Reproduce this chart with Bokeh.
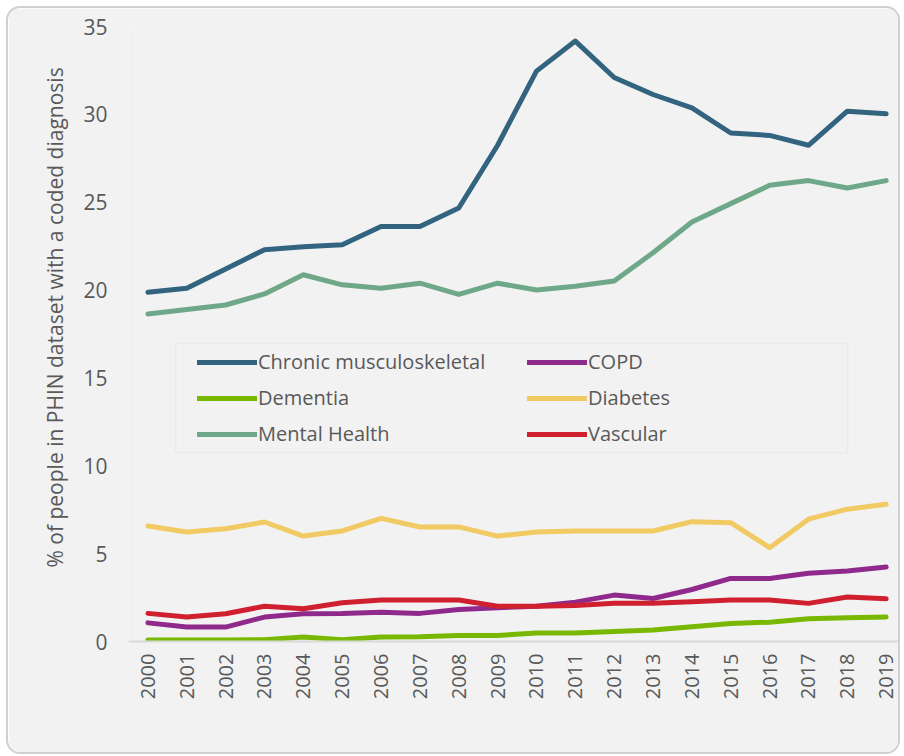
import math
from bokeh.plotting import figure
from bokeh.models import Range1d, FixedTicker, Legend, LegendItem, BoxAnnotation, Title
from bokeh.embed import file_html
from bokeh.resources import INLINE

years = list(range(2000, 2020))
chronic = [19.88, 20.1, 21.2, 22.3, 22.46, 22.58, 23.62, 23.62, 24.67, 28.24,
           32.46, 34.17, 32.1, 31.13, 30.37, 28.94, 28.8, 28.24, 30.18, 30.03]
copd = [1.06, 0.82, 0.82, 1.39, 1.58, 1.6, 1.67, 1.6, 1.82, 1.92,
        2.01, 2.24, 2.64, 2.45, 2.96, 3.59, 3.59, 3.88, 4.01, 4.24]
dementia = [0.08, 0.08, 0.08, 0.1, 0.25, 0.1, 0.25, 0.27, 0.34, 0.34,
            0.49, 0.49, 0.57, 0.65, 0.84, 1.03, 1.1, 1.29, 1.35, 1.39]
diabetes = [6.57, 6.23, 6.42, 6.80, 6.0, 6.29, 7.01, 6.52, 6.52, 6.0,
            6.23, 6.29, 6.29, 6.29, 6.82, 6.76, 5.34, 6.96, 7.53, 7.81]
mental = [18.64, 18.9, 19.15, 19.78, 20.87, 20.3, 20.1, 20.39, 19.76, 20.39,
          20.0, 20.22, 20.52, 22.12, 23.87, 24.92, 25.96, 26.23, 25.81, 26.23]
vascular = [1.6, 1.39, 1.58, 2.01, 1.86, 2.2, 2.36, 2.36, 2.36, 2.01,
            2.01, 2.05, 2.17, 2.17, 2.26, 2.36, 2.36, 2.17, 2.53, 2.43]

series_names = ["Chronic musculoskeletal", "COPD", "Dementia", "Diabetes", "Mental Health", "Vascular"]
series_values = [chronic, copd, dementia, diabetes, mental, vascular]
series_colors = ["#32647f", "#8f2a8c", "#78b800", "#f2ca63", "#6fa888", "#d01f2e"]
y_ticks = [0, 5, 10, 15, 20, 25, 30, 35]
y_title = "% of people in PHIN dataset with a coded diagnosis"

BG = "#f2f2f2"
FONT = "Open Sans"
TXT = "#595959"

p = figure(width=894, height=748, output_backend="svg", toolbar_location=None,
           x_range=Range1d(1999.5, 2019.42), y_range=Range1d(0, 35),
           min_border_left=120, min_border_right=0, min_border_top=18, min_border_bottom=115)
p.background_fill_color = BG
p.border_fill_color = BG
p.outline_line_color = None
p.xgrid.visible = False
p.ygrid.visible = False
p.styles = {"border": "2px solid #d0d0d0", "border-radius": "14px", "overflow": "hidden",
            "box-sizing": "border-box", "margin": "6px"}

renderers = []
for name, vals, col in zip(series_names, series_values, series_colors):
    r = p.line(years, vals, line_color=col, line_width=5, line_cap="round", line_join="round")
    renderers.append(r)

# x axis
p.xaxis.ticker = FixedTicker(ticks=years)
p.xaxis.major_label_orientation = math.pi / 2
p.xaxis.major_tick_line_color = None
p.xaxis.minor_tick_line_color = None
p.xaxis.major_tick_out = 0
p.xaxis.major_tick_in = 0
p.xaxis.axis_line_color = "#d9d9d9"
p.xaxis.axis_line_width = 2
p.xaxis.major_label_text_font = FONT
p.xaxis.major_label_text_font_size = "20px"
p.xaxis.major_label_text_color = TXT
p.xaxis.major_label_standoff = 12

# y axis
p.yaxis.ticker = FixedTicker(ticks=y_ticks)
p.yaxis.major_tick_line_color = None
p.yaxis.minor_tick_line_color = None
p.yaxis.major_tick_out = 0
p.yaxis.major_tick_in = 0
p.yaxis.axis_line_color = None
p.yaxis.major_label_text_font = FONT
p.yaxis.major_label_text_font_size = "21px"
p.yaxis.major_label_text_color = TXT
p.yaxis.major_label_standoff = 21

ytitle = Title(text=y_title, align="left", offset=74, standoff=23,
               text_font=FONT, text_font_size="21px", text_font_style="normal",
               text_color=TXT)
p.add_layout(ytitle, "left")

# legend frame
box = BoxAnnotation(left=165, right=837, top=333, bottom=442,
                    left_units="canvas", right_units="canvas",
                    top_units="canvas", bottom_units="canvas",
                    fill_color=BG, fill_alpha=1, line_color="#d9d9d9", line_width=2)
p.add_layout(box)

order = [0, 2, 4, 1, 3, 5]
items = [LegendItem(label=series_names[i], renderers=[renderers[i]]) for i in order]
legend = Legend(items=items, ncols=2, location=(69, 194), orientation="vertical")
legend.background_fill_alpha = 0
legend.border_line_color = None
legend.label_text_font = FONT
legend.label_text_font_size = "20px"
legend.label_text_color = TXT
legend.glyph_width = 60
legend.glyph_height = 20
legend.label_standoff = 1
legend.label_width = 260
legend.label_height = 20
legend.spacing = 9
legend.padding = 7
legend.margin = 0
p.add_layout(legend, "center")

open("out.html", "w").write(file_html(p, INLINE))
